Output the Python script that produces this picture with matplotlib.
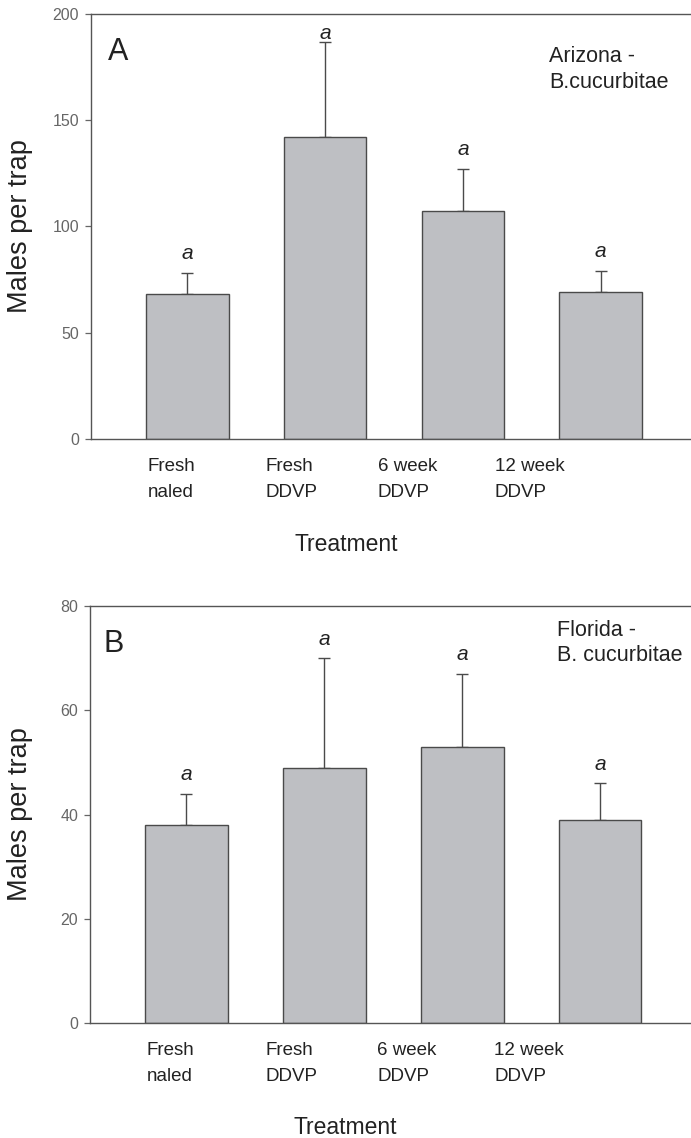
import matplotlib
matplotlib.use("Agg")
import matplotlib.pyplot as plt
import numpy as np

plt.rcParams['font.family'] = ['Liberation Sans', 'DejaVu Sans']

# -----------------------------------------------------------------------------
# Data
# -----------------------------------------------------------------------------
treatments = ["Fresh\nnaled", "Fresh\nDDVP", "6 week\nDDVP", "12 week\nDDVP"]

az_means = [68, 142, 107, 69]
az_upper = [78, 187, 127, 79]
az_letters = ["a", "a", "a", "a"]

fl_means = [38, 49, 53, 39]
fl_upper = [44, 70, 67, 46]
fl_letters = ["a", "a", "a", "a"]

# layout (axes fractions), not data
label_x = [0.095, 0.292, 0.479, 0.674]

BAR_COLOR = "#bebfc3"
EDGE = "#4a4a4a"
TEXT = "#222222"


def draw_panel(ax, means, upper, letters, ymax, step, tag, site, ls, ylab_x):
	x = np.arange(len(means))
	means = np.asarray(means, float)
	err = np.asarray(upper, float) - means
	ax.bar(x, means, width=0.6, color=BAR_COLOR, edgecolor=EDGE, linewidth=1.0, zorder=2)
	ax.errorbar(x, means, yerr=[np.zeros_like(err), err], fmt="none",
		ecolor=EDGE, elinewidth=1.0, capsize=4.5, capthick=1.0, zorder=1)

	# significance letters just above the error bars
	for i, (u, s) in enumerate(zip(upper, letters)):
		y = min(u + 0.045 * ymax, 0.955 * ymax)
		ax.text(i, y, s, ha="center", va="center", style="italic",
			fontsize=15, color=TEXT)

	ax.set_xlim(-0.7, 3.65)
	ax.set_ylim(0, ymax)
	ax.set_yticks(np.arange(0, ymax + 1, step))
	ax.set_xticks([])
	ax.tick_params(axis="y", direction="out", length=4.5, width=0.9,
		colors="#666666", labelsize=11.5, pad=4)
	for side in ("left", "top", "bottom"):
		ax.spines[side].set_color("#555555")
		ax.spines[side].set_linewidth(1.0)
	ax.spines["right"].set_visible(False)

	ax.set_ylabel("Males per trap", fontsize=19.5, color=TEXT)
	ax.yaxis.set_label_coords(ylab_x, 0.5)

	ax.text(tag[1], tag[2], tag[0], transform=ax.transAxes, fontsize=22,
		color=TEXT, ha="left", va="top")
	ax.text(site[1], site[2], site[0], transform=ax.transAxes, fontsize=15.5,
		color=TEXT, ha="left", va="top", linespacing=ls)

	for lx, lab in zip(label_x, treatments):
		ax.text(lx, -0.045, lab, transform=ax.transAxes, fontsize=13.5,
			color=TEXT, ha="left", va="top", linespacing=1.7)
	ax.text(0.426, -0.222, "Treatment", transform=ax.transAxes, fontsize=16.5,
		color=TEXT, ha="center", va="top")


fig = plt.figure(figsize=(6.91, 11.38), dpi=100)
ax1 = fig.add_axes([0.1317, 0.6145, 0.867, 0.3732])
ax2 = fig.add_axes([0.1302, 0.1008, 0.868, 0.3669])

draw_panel(ax1, az_means, az_upper, az_letters, 200, 50,
	("A", 0.028, 0.945), ("Arizona -\nB.cucurbitae", 0.765, 0.925), 1.35, -0.097)
draw_panel(ax2, fl_means, fl_upper, fl_letters, 80, 20,
	("B", 0.022, 0.945), ("Florida -\nB. cucurbitae", 0.778, 0.965), 1.2, -0.095)

fig.savefig("out.png", dpi=100)
